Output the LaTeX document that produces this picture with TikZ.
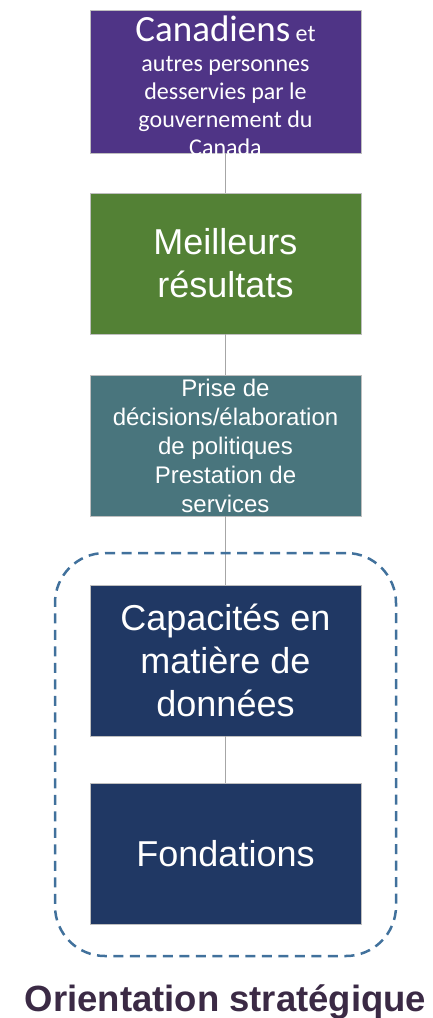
\documentclass[tikz,border=0pt]{standalone}
\usepackage{fontspec}
\setmainfont{Liberation Sans}
\newfontfamily\calibri{Carlito}
\usetikzlibrary{positioning,fit}
\definecolor{violetgc}{HTML}{4F3486}
\definecolor{vertgc}{HTML}{538135}
\definecolor{sarcelle}{HTML}{49757D}
\definecolor{marine}{HTML}{203864}
\definecolor{trait}{HTML}{A6A6A6}
\definecolor{pointille}{HTML}{41719C}
\definecolor{titrecol}{HTML}{3B2A45}
\definecolor{bord}{HTML}{BFBFBF}

\begin{document}
\begin{tikzpicture}[x=1pt, y=1pt, node distance=40pt]
		\tikzstyle{bloc} = [draw=bord, line width=0.8pt, minimum width=271pt, minimum height=141pt, inner sep=0pt, outer sep=0pt, text=white, align=center]
		\tikzstyle{grand} = [font=\fontsize{36}{43}\selectfont]
		\tikzstyle{petit} = [font=\fontsize{24}{29}\selectfont]
		\tikzstyle{lien} = [draw=trait, line width=1pt]
		\tikzstyle{cadre} = [draw=pointille, line width=2.5pt, dash pattern=on 10pt off 6.5pt, rounded corners=50pt, inner xsep=35pt, inner ysep=32pt, outer sep=0pt]

		\useasboundingbox (0,0) rectangle (433,-1018);

		\path
		node[bloc, fill=violetgc, minimum height=143pt] (can) at (225.5,-81.5) {}
		node[bloc, fill=vertgc, grand, below=of can] (res) {Meilleurs\\résultats}
		node[bloc, fill=sarcelle, petit, below=41pt of res] (dec) {Prise de\\décisions/élaboration\\de politiques\\Prestation de\\services}
		node[bloc, fill=marine, grand, minimum height=151pt, below=69pt of dec] (cap) {Capacités en\\matière de\\données}
		node[bloc, fill=marine, grand, below=47pt of cap] (fond) {Fondations}
		node[anchor=north, inner sep=0pt, text=white, align=center, font=\calibri\fontsize{24}{28}\selectfont] (canT) at ([yshift=-6pt]can.north) {{\fontsize{37}{36}\selectfont Canadiens} et\\[2pt]autres personnes\\desservies par le\\gouvernement du\\Canada}
		;

		\path
		(can) edge[lien] (res)
		(res) edge[lien] (dec)
		(dec) edge[lien] (cap)
		(cap) edge[lien] (fond)
		;

		\node[cadre, fit=(cap)(fond)] (groupe) {};
		\node[anchor=base, text=titrecol, font=\bfseries\fontsize{36.5}{40}\selectfont] (orient) at ([yshift=-55pt]groupe.south) {Orientation stratégique};

\end{tikzpicture}
\end{document}
